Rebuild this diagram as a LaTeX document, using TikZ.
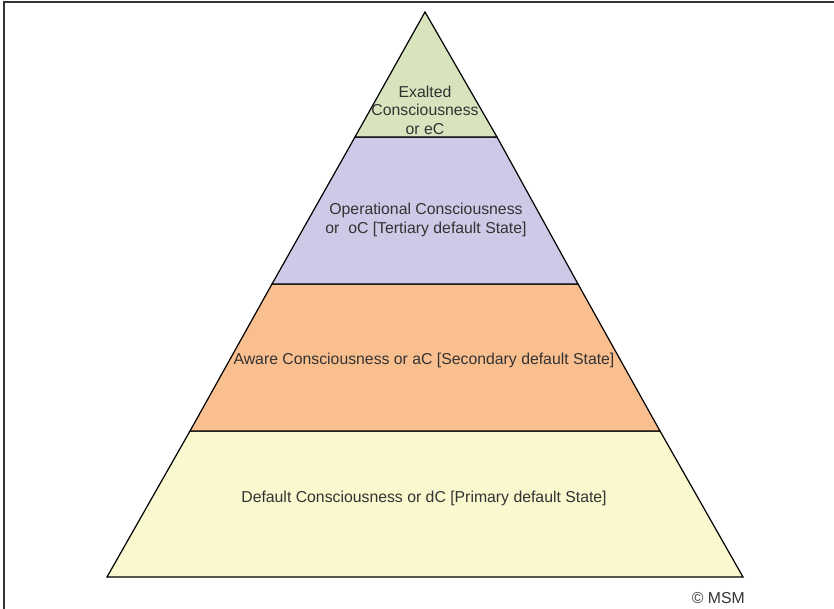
\documentclass[tikz,border=0pt]{standalone}
\usepackage{fontspec}
\setmainfont{Liberation Sans}
\definecolor{exaltedfill}{HTML}{D7E4BD}
\definecolor{operfill}{HTML}{CCCAE6}
\definecolor{awarefill}{HTML}{FABF8F}
\definecolor{dcfill}{HTML}{FAF8CE}
\definecolor{textgray}{HTML}{333333}
\tikzstyle{layer} = [draw=black, line width=1.2pt, line join=miter]
\tikzstyle{levelname} = [text=textgray, font=\fontsize{15.8}{18.5}\selectfont, align=center, inner sep=0pt]
\tikzstyle{frame} = [draw=textgray, line width=1.4pt]

\begin{document}
\begin{tikzpicture}[x=1pt, y=-1pt]
\useasboundingbox (0,0) rectangle (834,609);
% outer frame
\draw [frame] (4,609) -- (4,2) -- (834,2);
% pyramid layers, bottom to top
\draw [layer, fill=dcfill] (107,577) -- (743,577) -- (660,431) -- (190,431) -- cycle;
\draw [layer, fill=awarefill] (190,431) -- (660,431) -- (578,284) -- (272,284) -- cycle;
\draw [layer, fill=operfill] (272,284) -- (578,284) -- (497,137) -- (355,137) -- cycle;
\draw [layer, fill=exaltedfill] (355,137) -- (497,137) -- (425,12) -- cycle;
% level names
\node (ec) [levelname] at (425,110) {Exalted\\Consciousness\\or eC};
\node (oc) [levelname] at (426,220) {Operational Consciousness\\or\ \ oC [Tertiary default State]};
\node (ac) [levelname] at (424,360) {Aware Consciousness or aC [Secondary default State]};
\node (dc) [levelname] at (424,498) {Default Consciousness or dC [Primary default State]};
\node (copy) [levelname, anchor=base east] at (745,603) {© MSM};
\end{tikzpicture}
\end{document}
